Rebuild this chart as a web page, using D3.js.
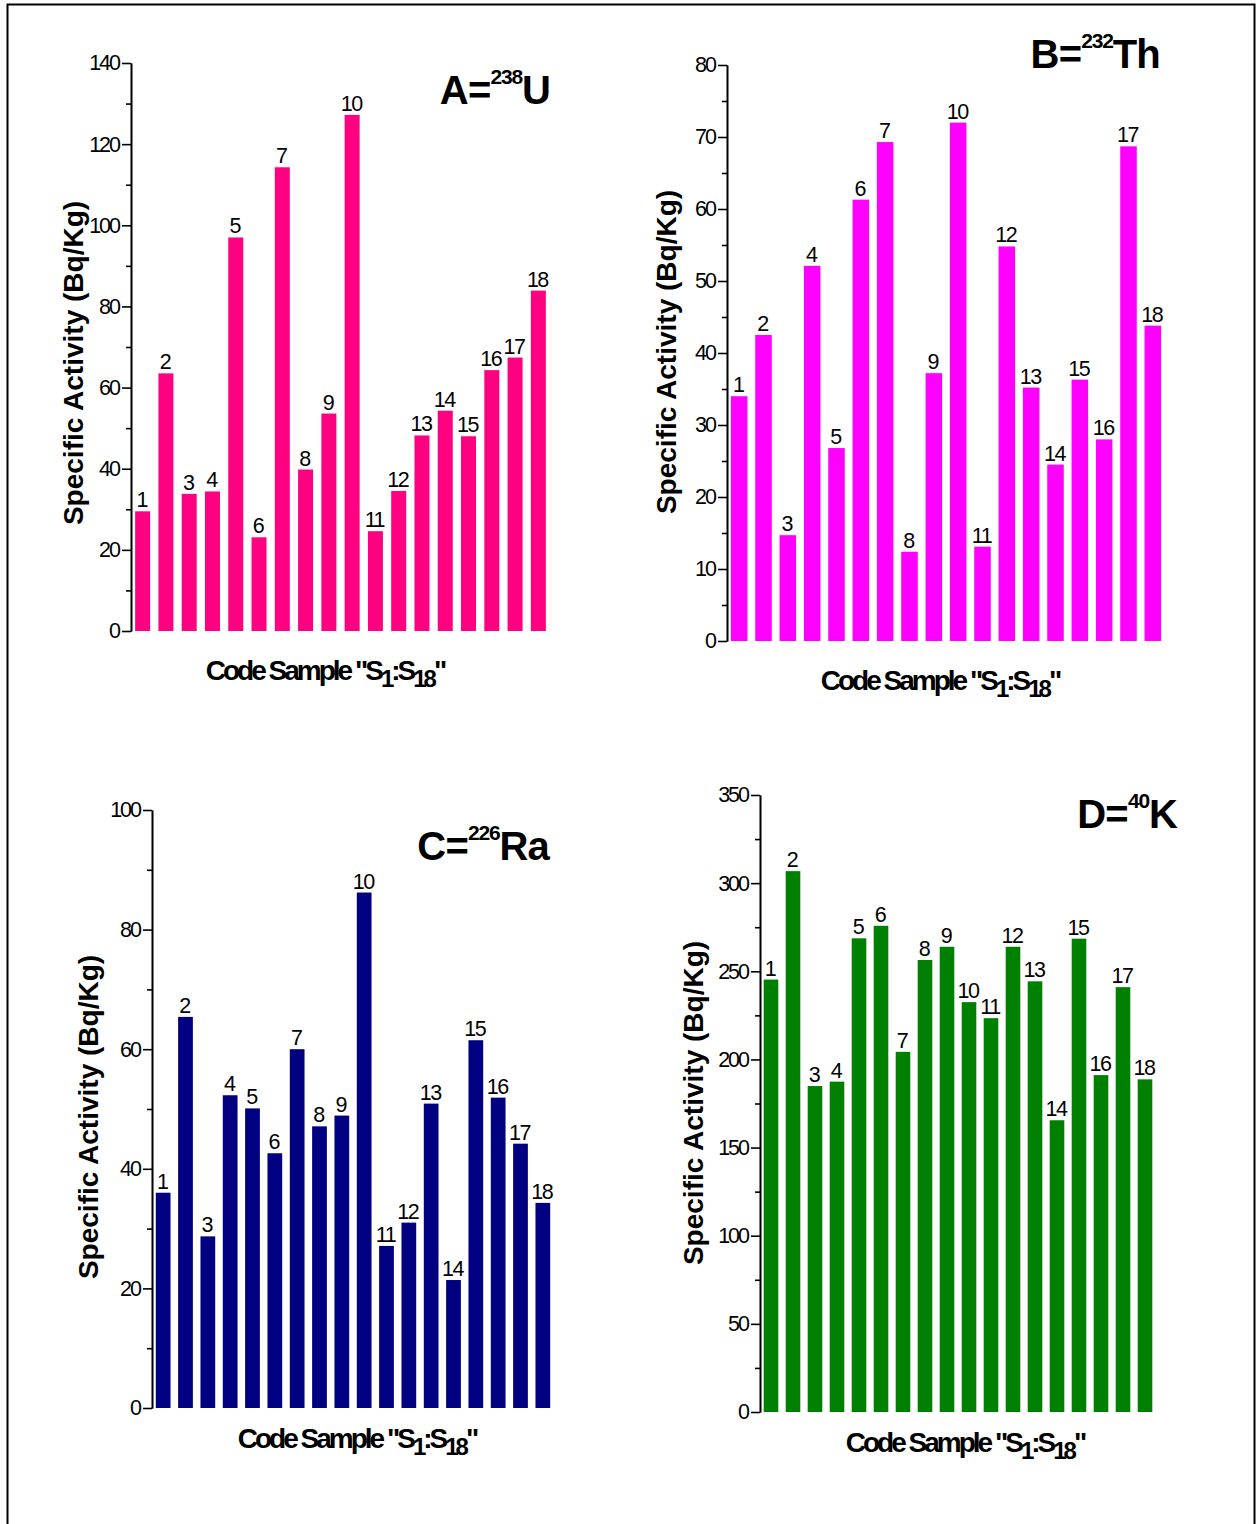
<!DOCTYPE html>
<html lang="en">
<head>
  <meta charset="UTF-8">
  <title>Specific activity of 238U, 232Th, 226Ra and 40K in samples S1:S18</title>
  <script src="https://d3js.org/d3.v7.min.js"></script>
  <style>
    body {
      margin: 0;
      background: #ffffff;
    }
    svg {
      display: block;
    }
    .tick text,
    .value {
      font-family: "Liberation Sans", Arial, sans-serif;
      font-size: 21.5px;
      fill: #000;
    }
    .domain,
    .tick line {
      stroke: #000;
      stroke-width: 1.6px;
    }
    .ylabel,
    .xlabel,
    .title {
      font-family: "Liberation Sans", Arial, sans-serif;
      font-weight: bold;
      fill: #000;
    }
  </style>
</head>
<body>
  <svg id="chart"></svg>
  <script>
    const sampleCodes = ["1", "2", "3", "4", "5", "6", "7", "8", "9",
                         "10", "11", "12", "13", "14", "15", "16", "17", "18"];

    // Bq/Kg
    const uValues  = [29.5, 63.5, 33.8, 34.4, 97.0, 23.1, 114.3, 39.8, 53.6,
                      127.2, 24.6, 34.5, 48.2, 54.3, 48.0, 64.3, 67.4, 83.9];
    const thValues = [34.0, 42.5, 14.7, 52.1, 26.8, 61.3, 69.3, 12.4, 37.2,
                      72.0, 13.1, 54.8, 35.2, 24.5, 36.3, 28.0, 68.7, 43.8];
    const raValues = [36.0, 65.4, 28.7, 52.3, 50.1, 42.6, 60.0, 47.1, 48.9,
                      86.2, 27.1, 31.0, 50.9, 21.4, 61.5, 51.9, 44.2, 34.3];
    const kValues  = [245.3, 306.8, 184.9, 187.4, 268.7, 275.8, 204.3, 256.4, 263.9,
                      232.5, 223.4, 263.9, 244.3, 165.5, 268.5, 191.1, 241.0, 188.7];

    const uTicks  = [0, 20, 40, 60, 80, 100, 120, 140];
    const thTicks = [0, 10, 20, 30, 40, 50, 60, 70, 80];
    const raTicks = [0, 20, 40, 60, 80, 100];
    const kTicks  = [0, 50, 100, 150, 200, 250, 300, 350];

    const yLabel = "Specific Activity (Bq/Kg)";

    const panels = [
      { letter: "A", mass: "238", element: "U", values: uValues, ticks: uTicks, color: "#ff0080",
        x0: 131, x1: 550, yTop: 63, yBottom: 631, pad: 0.356,
        titleX: 550, titleY: 104, ylabelX: 83, ylabelY: 363, xlabelX: 325, xlabelY: 680 },
      { letter: "B", mass: "232", element: "Th", values: thValues, ticks: thTicks, color: "#ff00ff",
        x0: 727, x1: 1165, yTop: 65, yBottom: 641, pad: 0.32,
        titleX: 1160, titleY: 68, ylabelX: 676, ylabelY: 352, xlabelX: 940, xlabelY: 690 },
      { letter: "C", mass: "226", element: "Ra", values: raValues, ticks: raTicks, color: "#000080",
        x0: 152, x1: 554, yTop: 810, yBottom: 1408, pad: 0.34,
        titleX: 549, titleY: 860, ylabelX: 98, ylabelY: 1117, xlabelX: 357, xlabelY: 1448 },
      { letter: "D", mass: "40", element: "K", values: kValues, ticks: kTicks, color: "#008000",
        x0: 760, x1: 1156, yTop: 795, yBottom: 1412, pad: 0.336,
        titleX: 1177, titleY: 828, ylabelX: 703, ylabelY: 1103, xlabelX: 965, xlabelY: 1452 }
    ];

    const svg = d3.select("#chart")
                  .attr("width", 1257)
                  .attr("height", 1524);

    // outer frame
    svg.append("rect")
       .attr("x", 7.5)
       .attr("y", 4.5)
       .attr("width", 1247)
       .attr("height", 1540)
       .attr("fill", "none")
       .attr("stroke", "#000")
       .attr("stroke-width", 2);

    panels.forEach(p => {
      const g = svg.append("g");

      const x = d3.scaleBand()
                  .domain(sampleCodes)
                  .range([p.x0, p.x1])
                  .paddingInner(p.pad)
                  .paddingOuter(p.pad / 2);

      const yMax = p.ticks[p.ticks.length - 1];
      const y = d3.scaleLinear()
                  .domain([0, yMax])
                  .range([p.yBottom, p.yTop]);

      // minor ticks halfway between the labelled ones
      const minor = p.ticks.slice(1).map((t, i) => (t + p.ticks[i]) / 2);

      g.append("g")
       .attr("transform", `translate(${p.x0},0)`)
       .call(d3.axisLeft(y).tickValues(minor).tickSize(5).tickSizeOuter(0).tickFormat(""));

      g.append("g")
       .attr("transform", `translate(${p.x0},0)`)
       .call(d3.axisLeft(y).tickValues(p.ticks).tickSize(9).tickSizeOuter(0).tickPadding(3))
       .selectAll("text")
       .attr("letter-spacing", "-2px");

      const data = sampleCodes.map((c, i) => ({ code: c, value: p.values[i] }));

      g.selectAll(".bar")
       .data(data)
       .enter()
       .append("rect")
       .attr("class", "bar")
       .attr("x", d => x(d.code))
       .attr("y", d => y(d.value))
       .attr("width", x.bandwidth())
       .attr("height", d => y(0) - y(d.value))
       .attr("fill", p.color);

      g.selectAll(".value")
       .data(data)
       .enter()
       .append("text")
       .attr("class", "value")
       .attr("x", d => x(d.code) + x.bandwidth() / 2 - 1)
       .attr("y", d => y(d.value) - 4)
       .attr("text-anchor", "middle")
       .attr("letter-spacing", "-1.5px")
       .text(d => d.code);

      // panel title, e.g. A=238U
      const title = g.append("text")
                     .attr("class", "title")
                     .attr("x", p.titleX)
                     .attr("y", p.titleY)
                     .attr("text-anchor", "end")
                     .attr("font-size", "40px")
                     .attr("letter-spacing", "-0.8px");
      title.append("tspan").text(p.letter + "=");
      title.append("tspan")
           .attr("font-size", "21px")
           .attr("dy", -20)
           .attr("letter-spacing", "-1.2px")
           .text(p.mass);
      title.append("tspan")
           .attr("dy", 20)
           .text(p.element);

      g.append("text")
       .attr("class", "ylabel")
       .attr("transform", `translate(${p.ylabelX},${p.ylabelY}) rotate(-90)`)
       .attr("text-anchor", "middle")
       .attr("font-size", "28px")
       .text(yLabel);

      const xl = g.append("text")
                  .attr("class", "xlabel")
                  .attr("x", p.xlabelX)
                  .attr("y", p.xlabelY)
                  .attr("text-anchor", "middle")
                  .attr("font-size", "28px")
                  .attr("letter-spacing", "-3px");
      xl.append("tspan").text("Code Sample \"S");
      xl.append("tspan").attr("font-size", "24px").attr("dy", 7).text("1");
      xl.append("tspan").attr("dy", -7).text(":S");
      xl.append("tspan").attr("font-size", "24px").attr("dy", 7).text("18");
      xl.append("tspan").attr("dy", -7).text("\"");
    });
  </script>
</body>
</html>
